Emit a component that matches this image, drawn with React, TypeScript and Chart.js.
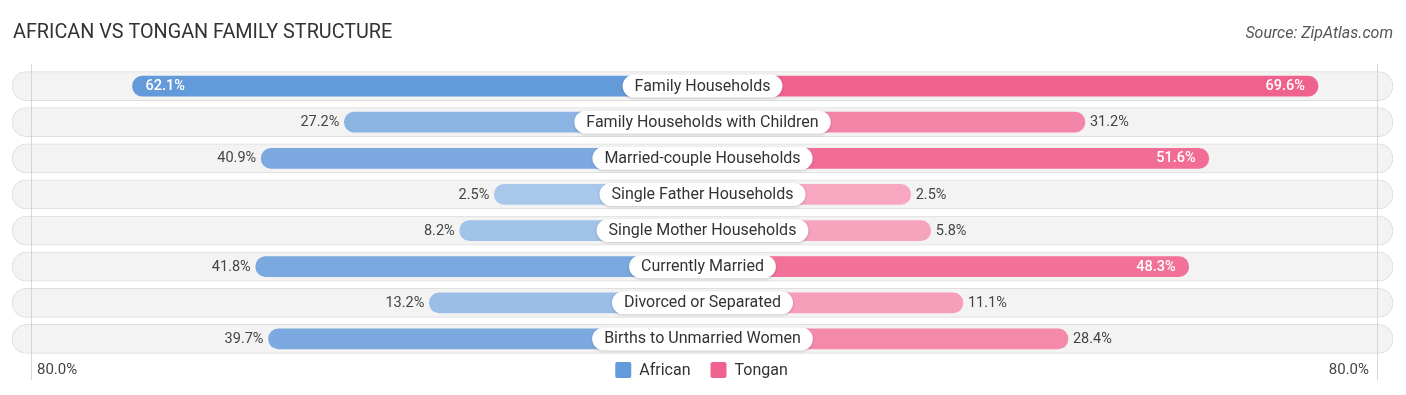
import React, { useEffect, useRef } from "react";
import { Chart, registerables } from "chart.js";

Chart.register(...registerables);

const TITLE = "AFRICAN VS TONGAN FAMILY STRUCTURE";
const SOURCE = "Source: ZipAtlas.com";
const categories = [
  "Family Households",
  "Family Households with Children",
  "Married-couple Households",
  "Single Father Households",
  "Single Mother Households",
  "Currently Married",
  "Divorced or Separated",
  "Births to Unmarried Women",
];
const seriesNames = ["African", "Tongan"];
const african = [62.1, 27.2, 40.9, 2.5, 8.2, 41.8, 13.2, 39.7];
const tongan = [69.6, 31.2, 51.6, 2.5, 5.8, 48.3, 11.1, 28.4];
const axisMax = 80;
const axisLabels = [`${axisMax.toFixed(1)}%`, `${axisMax.toFixed(1)}%`];

// layout / style constants
const OFFSET = 31.8; // bar lead-in (behind the centre label), in % units
const HALF_RANGE = 113.75; // half width of the track, in % units
const AF_BASE = [99, 154, 218];
const TO_BASE = [240, 98, 142];
const INSIDE_MIN = 45;
const FONT = "Roboto, 'Noto Sans', Arial, sans-serif";

function shade(base: number[], v: number): string {
  const t = Math.min(1, 0.54 + 0.0075 * v);
  return `rgb(${base.map((c) => Math.round(255 - (255 - c) * t)).join(",")})`;
}

function roundRect(ctx: CanvasRenderingContext2D, x: number, y: number, w: number, h: number, r: number) {
  ctx.beginPath();
  ctx.moveTo(x + r, y);
  ctx.lineTo(x + w - r, y);
  ctx.arc(x + w - r, y + r, r, -Math.PI / 2, 0);
  ctx.lineTo(x + w, y + h - r);
  ctx.arc(x + w - r, y + h - r, r, 0, Math.PI / 2);
  ctx.lineTo(x + r, y + h);
  ctx.arc(x + r, y + h - r, r, Math.PI / 2, Math.PI);
  ctx.lineTo(x, y + r);
  ctx.arc(x + r, y + r, r, Math.PI, Math.PI * 1.5);
  ctx.closePath();
}

const overlayPlugin = {
  id: "overlay",
  afterDatasetsDraw(chart: any) {
    const { ctx, chartArea, scales } = chart;
    const xs = scales.x;
    const ys = scales.y;
    const cx = xs.getPixelForValue(0);
    ctx.save();

    // faint vertical guide lines
    const gl = chartArea.left + 19;
    const gr = chartArea.right - 16;
    ctx.strokeStyle = "rgba(200,200,200,0.7)";
    ctx.lineWidth = 1;
    ctx.beginPath();
    ctx.moveTo(gl + 0.5, chartArea.top - 4);
    ctx.lineTo(gl + 0.5, chartArea.bottom + 23);
    ctx.moveTo(gr + 0.5, chartArea.top - 4);
    ctx.lineTo(gr + 0.5, chartArea.bottom + 23);
    ctx.stroke();

    // value labels
    ctx.textBaseline = "middle";
    categories.forEach((_, i) => {
      const y = ys.getPixelForValue(i) + 0.5;
      const a = african[i];
      const t = tongan[i];
      const ax = xs.getPixelForValue(-(a + OFFSET));
      const tx = xs.getPixelForValue(t + OFFSET);
      if (a >= INSIDE_MIN) {
        ctx.font = `500 14.5px ${FONT}`;
        ctx.fillStyle = "#ffffff";
        ctx.textAlign = "left";
        ctx.fillText(`${a.toFixed(1)}%`, ax + 13, y);
      } else {
        ctx.font = `400 14.5px ${FONT}`;
        ctx.fillStyle = "#444444";
        ctx.textAlign = "right";
        ctx.fillText(`${a.toFixed(1)}%`, ax - 5, y);
      }
      if (t >= INSIDE_MIN) {
        ctx.font = `500 14.5px ${FONT}`;
        ctx.fillStyle = "#ffffff";
        ctx.textAlign = "right";
        ctx.fillText(`${t.toFixed(1)}%`, tx - 13, y);
      } else {
        ctx.font = `400 14.5px ${FONT}`;
        ctx.fillStyle = "#444444";
        ctx.textAlign = "left";
        ctx.fillText(`${t.toFixed(1)}%`, tx + 5, y);
      }
    });

    // centre category pills
    categories.forEach((c, i) => {
      const y = ys.getPixelForValue(i);
      ctx.font = `400 16px ${FONT}`;
      const w = ctx.measureText(c).width + 24;
      const h = 23;
      ctx.save();
      ctx.shadowColor = "rgba(0,0,0,0.18)";
      ctx.shadowBlur = 3;
      ctx.shadowOffsetY = 1;
      ctx.fillStyle = "#ffffff";
      roundRect(ctx, cx - w / 2, y - h / 2, w, h, h / 2);
      ctx.fill();
      ctx.restore();
      ctx.fillStyle = "#333333";
      ctx.textAlign = "center";
      ctx.textBaseline = "middle";
      ctx.fillText(c, cx, y + 0.5);
    });

    // axis labels
    const ay = chartArea.bottom + 13;
    ctx.font = `400 15px ${FONT}`;
    ctx.fillStyle = "#444444";
    ctx.textAlign = "left";
    ctx.fillText(axisLabels[0], gl + 6, ay);
    ctx.textAlign = "right";
    ctx.fillText(axisLabels[1], gr - 8, ay);

    // legend
    ctx.font = `400 16px ${FONT}`;
    const box = 16;
    const gap = 8;
    const spacing = 20;
    const colors = [shade(AF_BASE, 100), shade(TO_BASE, 100)];
    const widths = seriesNames.map((n) => ctx.measureText(n).width);
    const total = widths.reduce((s, w) => s + box + gap + w, 0) + spacing;
    let lx = cx - 1 - total / 2;
    seriesNames.forEach((n, k) => {
      ctx.fillStyle = colors[k];
      roundRect(ctx, lx, ay - box / 2, box, box, 2);
      ctx.fill();
      ctx.fillStyle = "#333333";
      ctx.textAlign = "left";
      ctx.fillText(n, lx + box + gap, ay + 0.5);
      lx += box + gap + widths[k] + spacing;
    });

    // title & source
    ctx.font = `400 19.8px ${FONT}`;
    ctx.fillStyle = "#333333";
    ctx.textAlign = "left";
    ctx.fillText(TITLE, 13, 33);
    ctx.font = `italic 400 16px ${FONT}`;
    ctx.fillStyle = "#555555";
    ctx.textAlign = "right";
    ctx.fillText(SOURCE, 1393, 34);

    ctx.restore();
  },
};

export default function App() {
  const ref = useRef<HTMLCanvasElement | null>(null);
  useEffect(() => {
    if (!ref.current) return;
    const chart = new Chart(ref.current, {
      type: "bar",
      data: {
        labels: categories,
        datasets: [
          {
            label: seriesNames[0],
            data: african.map((v) => [-(v + OFFSET), 0]) as any,
            backgroundColor: african.map((v) => shade(AF_BASE, v)),
            borderRadius: 10,
            borderSkipped: false,
            barThickness: 20,
            grouped: false,
            order: 1,
          },
          {
            label: seriesNames[1],
            data: tongan.map((v) => [0, v + OFFSET]) as any,
            backgroundColor: tongan.map((v) => shade(TO_BASE, v)),
            borderRadius: 10,
            borderSkipped: false,
            barThickness: 20,
            grouped: false,
            order: 1,
          },
          {
            label: "track",
            data: categories.map(() => [-HALF_RANGE, HALF_RANGE]) as any,
            backgroundColor: "#f3f3f3",
            borderColor: "#dedede",
            borderWidth: 1,
            borderRadius: 15,
            borderSkipped: false,
            barThickness: 29,
            grouped: false,
            order: 5,
          },
        ],
      },
      options: {
        indexAxis: "y",
        responsive: true,
        maintainAspectRatio: false,
        animation: false,
        layout: { padding: { left: 12, right: 13, top: 68, bottom: 38 } },
        scales: {
          x: { display: false, min: -HALF_RANGE, max: HALF_RANGE },
          y: { display: false },
        },
        plugins: {
          legend: { display: false },
          tooltip: { enabled: false },
          title: { display: false },
        },
      },
      plugins: [overlayPlugin],
    });
    return () => chart.destroy();
  }, []);

  return (
    <div style={{ position: "absolute", left: 0, top: 0, width: 1406, height: 395, background: "#ffffff" }}>
      <canvas ref={ref} />
    </div>
  );
}
